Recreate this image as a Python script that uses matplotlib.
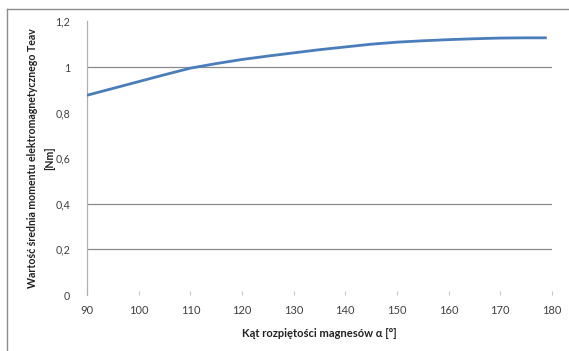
import matplotlib
matplotlib.use("Agg")
import matplotlib.pyplot as plt
from matplotlib.lines import Line2D
from matplotlib.ticker import FuncFormatter

angles = [90, 95, 100, 105, 110, 115, 120, 125, 130, 135, 140, 145, 150, 155, 160, 165, 170, 175, 179]
torque = [0.876, 0.906, 0.936, 0.966, 0.995, 1.015, 1.033, 1.048, 1.062, 1.076, 1.088, 1.100,
          1.109, 1.115, 1.120, 1.124, 1.127, 1.128, 1.128]
x_ticks = [90, 100, 110, 120, 130, 140, 150, 160, 170, 180]
y_ticks = [0, 0.2, 0.4, 0.6, 0.8, 1.0, 1.2]
visible_grid = [0.2, 0.4, 1.0]

plt.rcParams['font.family'] = ['Lato', 'DejaVu Sans']

fig = plt.figure(figsize=(5.69, 3.51), dpi=100)
ax = fig.add_axes([0.1529, 0.1595, 0.8171, 0.7795])

# outer chart border (top and left visible)
fig.add_artist(Line2D([7/569, 7/569], [0, 1 - 9/351], transform=fig.transFigure, color='#8c8c8c', lw=1))
fig.add_artist(Line2D([7/569, 1], [1 - 9/351, 1 - 9/351], transform=fig.transFigure, color='#8c8c8c', lw=1))

for g in visible_grid:
    ax.axhline(g, color='#8a8a8a', lw=0.9, zorder=1)

ax.plot(angles, torque, color='#4a7ebb', lw=2.0, zorder=3, solid_capstyle='butt')

ax.set_xlim(90, 180)
ax.set_ylim(0, 1.2)
ax.set_xticks(x_ticks)
ax.set_yticks(y_ticks)

def comma(v, pos):
    s = f"{v:.1f}".rstrip('0').rstrip('.')
    return s.replace('.', ',')

ax.yaxis.set_major_formatter(FuncFormatter(comma))

for side in ['top', 'right', 'bottom']:
    ax.spines[side].set_visible(False)
ax.spines['left'].set_color('#b0b0b0')
ax.spines['left'].set_linewidth(0.9)

ax.tick_params(axis='y', length=0, labelsize=7.7, labelcolor='#404040', pad=12)
ax.tick_params(axis='x', length=3, direction='in', color='#c8c8c8', labelsize=8, labelcolor='#404040', pad=7)

ax.set_xlabel('Kąt rozpiętości magnesów α [°]', fontsize=8, fontweight='bold', color='#202020', labelpad=9)
ax.set_ylabel('Wartość średnia momentu elektromagnetycznego Teav\n[Nm]', fontsize=7.6, fontweight='bold',
              color='#202020', linespacing=1.7, multialignment='center')
ax.yaxis.set_label_coords(-0.0686, 0.5)

fig.savefig('out.png', dpi=100)
